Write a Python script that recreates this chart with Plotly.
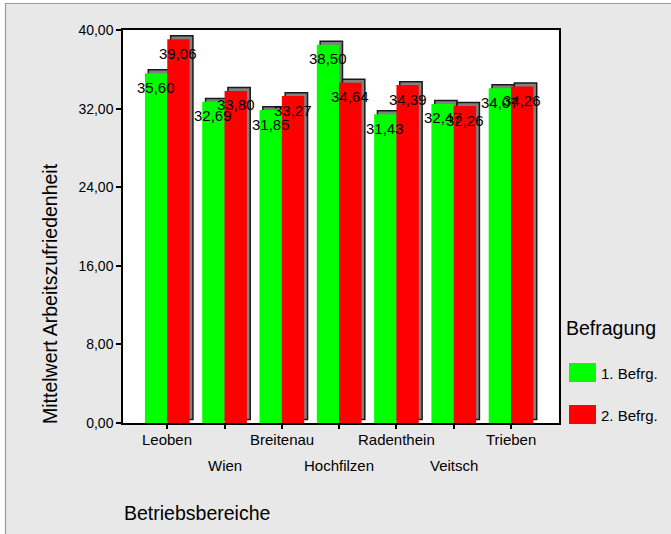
import plotly.graph_objects as go

# Survey results per site
categories = ["Leoben", "Wien", "Breitenau", "Hochfilzen", "Radenthein", "Veitsch", "Trieben"]
befragung_1 = [35.60, 32.69, 31.85, 38.50, 31.43, 32.47, 34.07]
befragung_2 = [39.06, 33.80, 33.27, 34.64, 34.39, 32.26, 34.26]
series_names = ["1. Befrg.", "2. Befrg."]
series_colors = ["#00ff00", "#ff0000"]
y_ticks = [0, 8, 16, 24, 32, 40]

FONT = "Liberation Sans, Arial, sans-serif"
FIG_W, FIG_H = 671, 534
L, R, T, B = 123, 559, 30, 423          # plot area in pixels
PW, PH = R - L, B - T

def px_x(px):
    return (px - L) / PW

def px_y(py):
    return (B - py) / PH

def fmt(v):
    return f"{v:.2f}".replace(".", ",")

bar_w = 0.39          # width of one bar (axis units)
sh_dx = 0.058         # shadow shift to the right
sh_dy = 0.35          # shadow shift upwards

xs = list(range(len(categories)))
fig = go.Figure()

series = [befragung_1, befragung_2]
offsets = [-bar_w, 0.0]
for vals, name, col, off in zip(series, series_names, series_colors, offsets):
    # drop shadow behind each bar
    fig.add_trace(go.Bar(
        x=xs, y=vals, base=[sh_dy] * len(vals), width=bar_w, offset=off + sh_dx,
        marker=dict(color="#808080", line=dict(color="#1a1a1a", width=1.5)),
        showlegend=False, hoverinfo="skip",
    ))
    fig.add_trace(go.Bar(
        x=xs, y=vals, width=bar_w, offset=off, name=name,
        marker=dict(color=col, line=dict(width=0)),
        showlegend=False,
    ))

annotations = []
# value labels just below the top of each bar
for vals, off in zip(series, offsets):
    for i, v in enumerate(vals):
        annotations.append(dict(
            x=i + off + bar_w / 2, y=v, xref="x", yref="y",
            text=fmt(v), showarrow=False, yanchor="middle", yshift=-14,
            font=dict(family=FONT, size=15, color="black"),
        ))

# category labels in two staggered rows
for i, c in enumerate(categories):
    row_y = 440 if i % 2 == 0 else 465
    annotations.append(dict(
        x=i, y=px_y(row_y), xref="x", yref="paper", text=c, showarrow=False,
        xanchor="center", yanchor="middle",
        font=dict(family=FONT, size=15, color="black"),
    ))

# axis titles
annotations.append(dict(
    x=px_x(122), y=px_y(513), xref="paper", yref="paper", text="Betriebsbereiche",
    showarrow=False, xanchor="left", yanchor="middle",
    font=dict(family=FONT, size=19.5, color="black"),
))
annotations.append(dict(
    x=px_x(50), y=px_y(294), xref="paper", yref="paper",
    text="Mittelwert Arbeitszufriedenheit", textangle=-90,
    showarrow=False, xanchor="center", yanchor="middle",
    font=dict(family=FONT, size=19.5, color="black"),
))

# legend
annotations.append(dict(
    x=px_x(564), y=px_y(328), xref="paper", yref="paper", text="Befragung",
    showarrow=False, xanchor="left", yanchor="middle",
    font=dict(family=FONT, size=19.5, color="black"),
))
shapes = []
for k, (name, col) in enumerate(zip(series_names, series_colors)):
    top = 363 + 42 * k
    shapes.append(dict(
        type="rect", xref="paper", yref="paper",
        x0=px_x(569), x1=px_x(596), y0=px_y(top + 19), y1=px_y(top),
        fillcolor=col, line=dict(width=0),
    ))
    annotations.append(dict(
        x=px_x(599), y=px_y(top + 10), xref="paper", yref="paper", text=name,
        showarrow=False, xanchor="left", yanchor="middle",
        font=dict(family=FONT, size=15, color="black"),
    ))

# white strip and grey edge around the panel
shapes += [
    dict(type="rect", xref="paper", yref="paper", x0=px_x(0), x1=px_x(FIG_W),
         y0=px_y(3), y1=px_y(0), fillcolor="white", line=dict(width=0)),
    dict(type="rect", xref="paper", yref="paper", x0=px_x(0), x1=px_x(5),
         y0=px_y(FIG_H), y1=px_y(0), fillcolor="white", line=dict(width=0)),
    dict(type="line", xref="paper", yref="paper", x0=px_x(5), x1=px_x(FIG_W),
         y0=px_y(3.5), y1=px_y(3.5), line=dict(color="#9a9a9a", width=1.2)),
    dict(type="line", xref="paper", yref="paper", x0=px_x(5.5), x1=px_x(5.5),
         y0=px_y(FIG_H), y1=px_y(3), line=dict(color="#9a9a9a", width=1.2)),
]

fig.update_layout(
    width=FIG_W, height=FIG_H,
    margin=dict(l=L, r=FIG_W - R, t=T, b=FIG_H - B, pad=0),
    paper_bgcolor="#e8e8e8", plot_bgcolor="white",
    barmode="overlay", showlegend=False,
    font=dict(family=FONT, color="black"),
    annotations=annotations, shapes=shapes,
    xaxis=dict(
        range=[-0.773, 6.837], tickvals=xs, showticklabels=False,
        ticks="outside", ticklen=4, tickwidth=1.5, tickcolor="black",
        showline=True, linecolor="black", linewidth=1.5, mirror=True,
        showgrid=False, zeroline=False, fixedrange=True,
    ),
    yaxis=dict(
        range=[0, 40], tickvals=y_ticks, ticktext=[fmt(v) for v in y_ticks],
        ticks="outside", ticklen=5, tickwidth=1.5, tickcolor="black",
        tickfont=dict(family=FONT, size=14, color="black"),
        showline=True, linecolor="black", linewidth=1.5, mirror=True,
        showgrid=False, zeroline=False, fixedrange=True,
    ),
)

fig.write_html("out.html")
